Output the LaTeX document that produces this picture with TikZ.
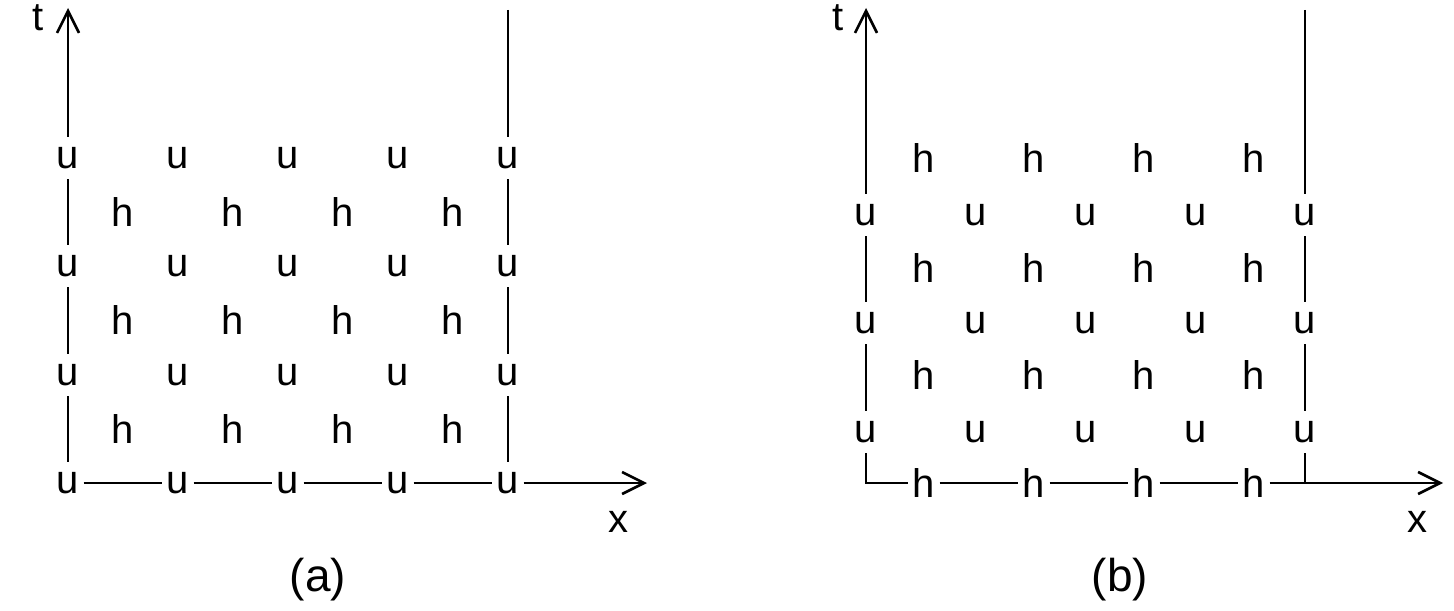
\documentclass[tikz,border=0pt]{standalone}
\usepackage{fontspec}
\setmainfont{Liberation Sans}
\usetikzlibrary{arrows.meta}

\begin{document}
\begin{tikzpicture}[
    x=0.5pt, y=-0.5pt,
    site/.style={inner xsep=2pt, inner ysep=5pt, font=\fontsize{20}{24}\selectfont},
    link/.style={line width=1.3pt},
    axis/.style={line width=1.3pt, -{Straight Barb[length=11pt,width=11pt,line width=1.3pt]}},
    lbl/.style={font=\fontsize{20}{24}\selectfont},
    panel/.style={font=\fontsize{23}{26}\selectfont}
]
\useasboundingbox (0,0) rectangle (1454,610);

% (a) lattice
\foreach \i/\x in {1/68,2/178,3/288,4/398,5/508}
  \foreach \j/\y in {1/158,2/266,3/375,4/483}
    \node[site] (au\i\j) at (\x,\y) {u};
\foreach \i/\x in {1/123,2/233,3/343,4/453}
  \foreach \j/\y in {1/212,2/320,3/429}
    \node[site] (ah\i\j) at (\x,\y) {h};
% (a) axes and boundary
\coordinate (at) at (68,8);
\coordinate (ax) at (647,483);
\coordinate (ar) at (508,10);
\draw[axis] (au11) -- (at);
\draw[link] (ar) -- (au51);
\foreach \j/\k in {1/2,2/3,3/4} {
  \draw[link] (au1\j) -- (au1\k);
  \draw[link] (au5\j) -- (au5\k);
}
\foreach \i/\k in {1/2,2/3,3/4,4/5}
  \draw[link] (au\i4) -- (au\k4);
\draw[axis] (au54) -- (ax);
\node[lbl] (ta) at (38,18) {t};
\node[lbl] (xa) at (618,522) {x};
\node[panel] (capa) at (318,580) {(a)};

% (b) lattice
\foreach \i/\x in {1/866,2/976,3/1086,4/1196,5/1305}
  \foreach \j/\y in {1/215,2/323,3/432}
    \node[site] (bu\i\j) at (\x,\y) {u};
\foreach \i/\x in {1/924,2/1034,3/1144,4/1254}
  \foreach \j/\y in {1/158,2/268,3/375,4/483}
    \node[site] (bh\i\j) at (\x,\y) {h};
% (b) axes and boundary
\coordinate (bt) at (866,8);
\coordinate (bc) at (866,483);
\coordinate (br) at (1305,10);
\coordinate (bj) at (1305,483);
\coordinate (bx) at (1443,483);
\draw[axis] (bu11) -- (bt);
\draw[link] (br) -- (bu51);
\foreach \j/\k in {1/2,2/3} {
  \draw[link] (bu1\j) -- (bu1\k);
  \draw[link] (bu5\j) -- (bu5\k);
}
\draw[link] (bu13) -- (bc) -- (bh14);
\foreach \i/\k in {1/2,2/3,3/4}
  \draw[link] (bh\i4) -- (bh\k4);
\draw[link] (bu53) -- (bj);
\draw[axis] (bh44) -- (bx);
\node[lbl] (tb) at (838,18) {t};
\node[lbl] (xb) at (1417,522) {x};
\node[panel] (capb) at (1120,580) {(b)};
\end{tikzpicture}
\end{document}
